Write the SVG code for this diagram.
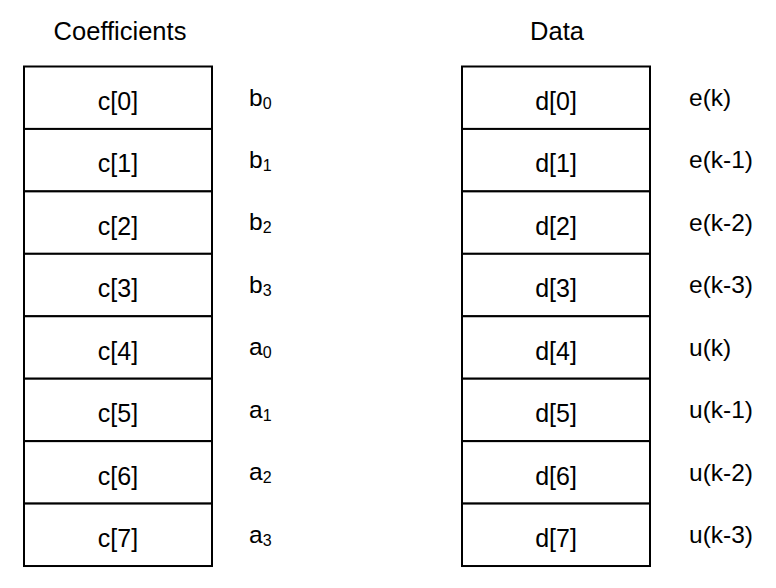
<svg xmlns="http://www.w3.org/2000/svg" width="776" height="588" viewBox="0 0 776 588">
<style>
text{font-family:"Liberation Sans",Arial,sans-serif;fill:#000}
.t{font-size:25.5px;text-anchor:middle}
.c{font-size:25px;text-anchor:middle}
.l{font-size:24.5px}
.s{font-size:16px}
.cell{fill:#fff;stroke:#000;stroke-width:2}
</style>
<rect width="776" height="588" fill="#fff"/>
<text class="t" x="120" y="40">Coefficients</text>
<text class="t" x="557" y="40">Data</text>
<g id="coef">
<g id="c0"><rect class="cell" x="24" y="66.5" width="188" height="62.44"/><text class="c" x="118" y="110">c[0]</text></g>
<g id="c1"><rect class="cell" x="24" y="128.94" width="188" height="62.44"/><text class="c" x="118" y="172.4">c[1]</text></g>
<g id="c2"><rect class="cell" x="24" y="191.38" width="188" height="62.44"/><text class="c" x="118" y="234.9">c[2]</text></g>
<g id="c3"><rect class="cell" x="24" y="253.82" width="188" height="62.44"/><text class="c" x="118" y="297.3">c[3]</text></g>
<g id="c4"><rect class="cell" x="24" y="316.26" width="188" height="62.44"/><text class="c" x="118" y="359.8">c[4]</text></g>
<g id="c5"><rect class="cell" x="24" y="378.7" width="188" height="62.44"/><text class="c" x="118" y="422.2">c[5]</text></g>
<g id="c6"><rect class="cell" x="24" y="441.14" width="188" height="62.44"/><text class="c" x="118" y="484.6">c[6]</text></g>
<g id="c7"><rect class="cell" x="24" y="503.58" width="188" height="62.44"/><text class="c" x="118" y="547.1">c[7]</text></g>
</g>
<g id="data">
<g id="d0"><rect class="cell" x="462" y="66.5" width="188" height="62.44"/><text class="c" x="556" y="110">d[0]</text></g>
<g id="d1"><rect class="cell" x="462" y="128.94" width="188" height="62.44"/><text class="c" x="556" y="172.4">d[1]</text></g>
<g id="d2"><rect class="cell" x="462" y="191.38" width="188" height="62.44"/><text class="c" x="556" y="234.9">d[2]</text></g>
<g id="d3"><rect class="cell" x="462" y="253.82" width="188" height="62.44"/><text class="c" x="556" y="297.3">d[3]</text></g>
<g id="d4"><rect class="cell" x="462" y="316.26" width="188" height="62.44"/><text class="c" x="556" y="359.8">d[4]</text></g>
<g id="d5"><rect class="cell" x="462" y="378.7" width="188" height="62.44"/><text class="c" x="556" y="422.2">d[5]</text></g>
<g id="d6"><rect class="cell" x="462" y="441.14" width="188" height="62.44"/><text class="c" x="556" y="484.6">d[6]</text></g>
<g id="d7"><rect class="cell" x="462" y="503.58" width="188" height="62.44"/><text class="c" x="556" y="547.1">d[7]</text></g>
</g>
<g id="coef-labels">
<text class="l" x="249" y="105.5">b<tspan class="s" dy="3">0</tspan></text>
<text class="l" x="249" y="168">b<tspan class="s" dy="3">1</tspan></text>
<text class="l" x="249" y="230.4">b<tspan class="s" dy="3">2</tspan></text>
<text class="l" x="249" y="292.8">b<tspan class="s" dy="3">3</tspan></text>
<text class="l" x="249" y="355.3">a<tspan class="s" dy="3">0</tspan></text>
<text class="l" x="249" y="417.7">a<tspan class="s" dy="3">1</tspan></text>
<text class="l" x="249" y="480.1">a<tspan class="s" dy="3">2</tspan></text>
<text class="l" x="249" y="542.6">a<tspan class="s" dy="3">3</tspan></text>
</g>
<g id="data-labels">
<text class="l" x="689" y="106">e(k)</text>
<text class="l" x="689" y="168.4">e(k-1)</text>
<text class="l" x="689" y="230.9">e(k-2)</text>
<text class="l" x="689" y="293.3">e(k-3)</text>
<text class="l" x="689" y="355.8">u(k)</text>
<text class="l" x="689" y="418.2">u(k-1)</text>
<text class="l" x="689" y="480.6">u(k-2)</text>
<text class="l" x="689" y="543.1">u(k-3)</text>
</g>
</svg>
